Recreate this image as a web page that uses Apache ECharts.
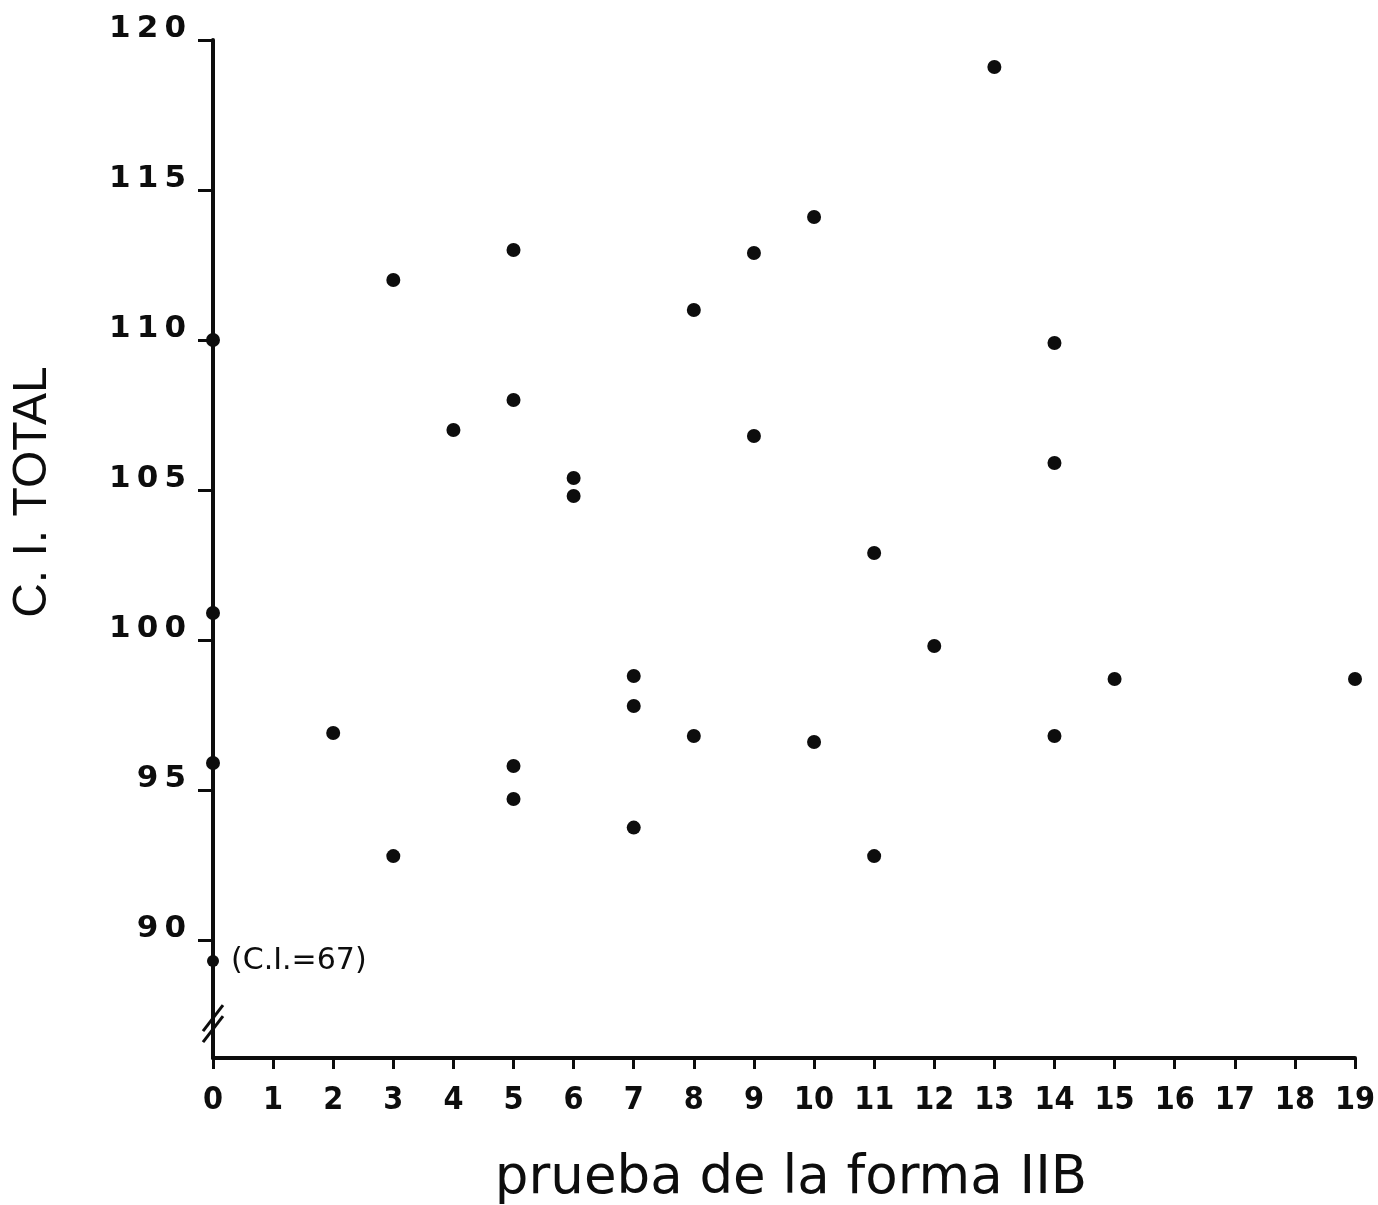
<!DOCTYPE html>
<html>
<head>
<meta charset="utf-8">
<title>C. I. total y prueba de la forma IIB</title>
<script src="https://cdn.jsdelivr.net/npm/echarts@6/dist/echarts.min.js"></script>
<style>
  html, body { margin: 0; padding: 0; background: #ffffff; }
  #chart { width: 1378px; height: 1205px; }
</style>
</head>
<body>
<div id="chart"></div>
<script>
// Puntuación en la prueba de la forma IIB (eje X) y C.I. total (eje Y)
const scoresIIB = [0, 0, 0, 2, 3, 3, 4, 5, 5, 5, 5, 6, 6, 7, 7, 7, 8, 8, 9, 9,
                   10, 10, 11, 11, 12, 13, 14, 14, 14, 15, 19];
const ciTotal   = [110, 100.9, 95.9, 96.9, 112, 92.8, 107, 113, 108, 95.8, 94.7,
                   105.4, 104.8, 98.8, 97.8, 93.75, 111, 96.8, 112.9, 106.8,
                   114.1, 96.6, 102.9, 92.8, 99.8, 119.1, 109.9, 105.9, 96.8,
                   98.7, 98.7];

// Caso fuera de escala, dibujado junto a la ruptura del eje
const outlierScore = [0];
const outlierCI    = [89.3];
const outlierNote  = '(C.I.=67)';

// Marcas de los ejes
const yTickValues = [90, 95, 100, 105, 110, 115, 120];
const xTickValues = [0, 1, 2, 3, 4, 5, 6, 7, 8, 9, 10, 11, 12, 13, 14, 15, 16, 17, 18, 19];

const xTitle = 'prueba de la forma IIB';
const yTitle = 'C. I. TOTAL';

const ink = '#0d0d0d';
const pairs = (xs, ys) => xs.map((x, i) => [x, ys[i]]);

const chart = echarts.init(document.getElementById('chart'), null, { renderer: 'canvas' });

chart.setOption({
  animation: false,
  backgroundColor: '#ffffff',
  grid: {
    left: 213, right: 23, top: 40, bottom: 147,
    containLabel: false,
    outerBoundsMode: 'none'
  },
  xAxis: {
    type: 'value',
    min: 0,
    max: 19,
    interval: 1,
    name: xTitle,
    nameLocation: 'middle',
    nameGap: 95,
    nameTextStyle: {
      fontFamily: 'DejaVu Sans',
      fontSize: 53,
      color: ink,
      padding: [0, 0, 0, 14]
    },
    axisLine: { lineStyle: { color: ink, width: 4 } },
    axisTick: {
      length: 11,
      customValues: xTickValues,
      lineStyle: { color: ink, width: 3 }
    },
    axisLabel: {
      margin: 27,
      customValues: xTickValues,
      fontFamily: '"Liberation Sans Narrow", "DejaVu Sans Condensed", sans-serif',
      fontWeight: 'bold',
      fontSize: 32,
      color: ink
    },
    splitLine: { show: false }
  },
  yAxis: {
    type: 'value',
    min: 86.07,
    max: 120,
    name: yTitle,
    nameLocation: 'middle',
    nameRotate: 90,
    nameGap: 156,
    nameTextStyle: {
      fontFamily: '"Liberation Sans", Arial, sans-serif',
      fontSize: 48,
      color: ink,
      padding: [0, 0, 0, 114]
    },
    axisLine: { lineStyle: { color: ink, width: 4 } },
    axisTick: {
      length: 15,
      customValues: yTickValues,
      lineStyle: { color: ink, width: 3 }
    },
    axisLabel: {
      margin: 27,
      customValues: yTickValues,
      verticalAlign: 'bottom',
      lineHeight: 22,
      fontFamily: '"DejaVu Sans", sans-serif',
      fontWeight: 'bold',
      fontSize: 31,
      color: ink,
      formatter: v => String(v).split('').join('\u2009')
    },
    splitLine: { show: false }
  },
  series: [
    {
      type: 'scatter',
      data: pairs(scoresIIB, ciTotal),
      symbol: 'circle',
      symbolSize: 14,
      clip: false,
      itemStyle: { color: ink, opacity: 1 },
      emphasis: { disabled: true }
    },
    {
      type: 'scatter',
      data: pairs(outlierScore, outlierCI),
      symbol: 'circle',
      symbolSize: 12,
      clip: false,
      itemStyle: { color: ink, opacity: 1 },
      label: {
        show: true,
        position: 'right',
        distance: 12,
        formatter: outlierNote,
        fontFamily: '"DejaVu Sans", sans-serif',
        fontSize: 30,
        color: ink
      },
      emphasis: { disabled: true }
    }
  ]
});

// Ruptura del eje Y: dos trazos oblicuos entre el mínimo y el primer valor
function drawAxisBreak() {
  const p = chart.convertToPixel({ gridIndex: 0 }, [0, 87.4]);
  const dx = 10, dy = 13, gap = 11;
  chart.setOption({
    graphic: [0, 1].map(k => ({
      type: 'line',
      silent: true,
      z: 10,
      shape: {
        x1: p[0] - dx, y1: p[1] + dy + k * gap,
        x2: p[0] + dx, y2: p[1] - dy + k * gap
      },
      style: { stroke: ink, lineWidth: 3 }
    }))
  });
}
drawAxisBreak();
</script>
</body>
</html>
